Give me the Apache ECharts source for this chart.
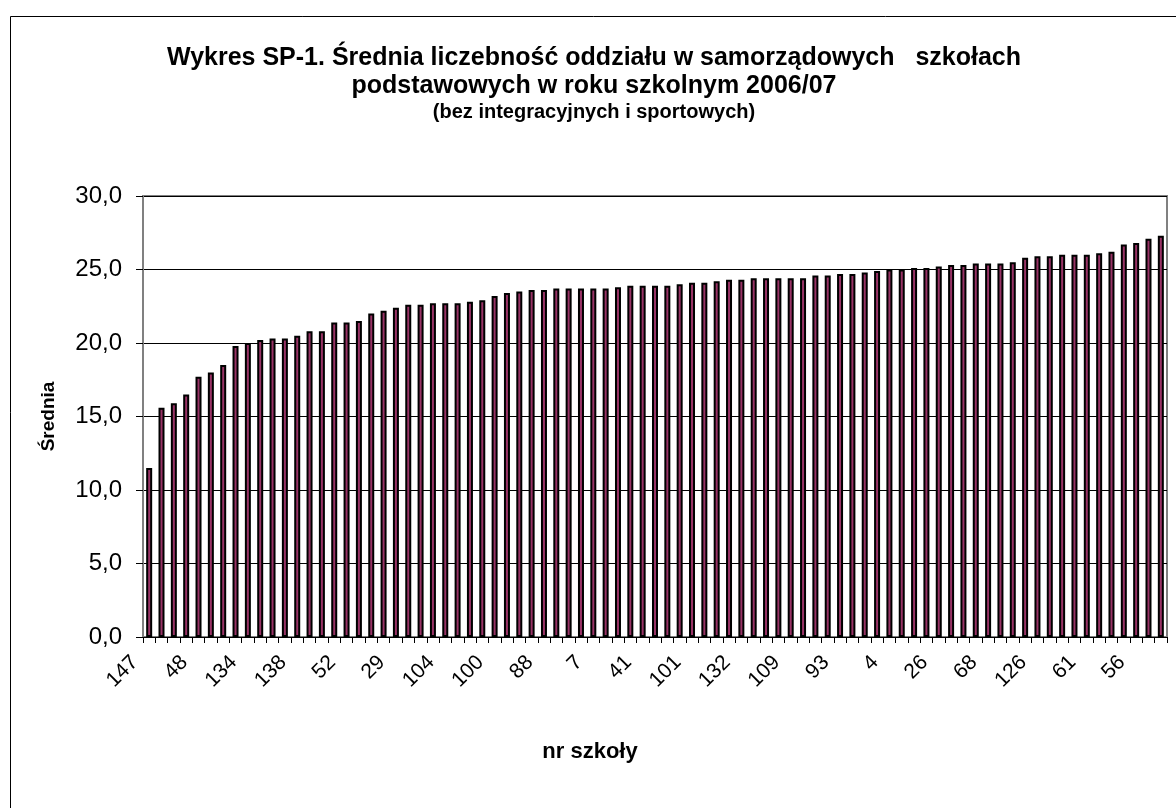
<!DOCTYPE html>
<html>
<head>
<meta charset="utf-8">
<script src="https://cdn.jsdelivr.net/npm/echarts@6/dist/echarts.min.js"></script>
<style>
  html, body { margin: 0; padding: 0; background: #fff; }
  #main { width: 1176px; height: 808px; }
</style>
</head>
<body>
<div id="main"></div>
<script>
  // numery szkół widoczne na osi (co czwarta kategoria), pozostałe nieczytelne
  var shownLabels = ['147','48','134','138','52','29','104','100','88','7','41',
                     '101','132','109','93','4','26','68','126','61','56'];
  var averages = [11.5,15.6,15.9,16.5,17.7,18.0,18.5,19.8,20.0,20.2,
                  20.3,20.3,20.5,20.8,20.8,21.4,21.4,21.5,22.0,22.2,
                  22.4,22.6,22.6,22.7,22.7,22.7,22.8,22.9,23.2,23.4,
                  23.5,23.6,23.6,23.7,23.7,23.7,23.7,23.7,23.8,23.9,
                  23.9,23.9,23.9,24.0,24.1,24.1,24.2,24.3,24.3,24.4,
                  24.4,24.4,24.4,24.4,24.6,24.6,24.7,24.7,24.8,24.9,
                  25.0,25.0,25.1,25.1,25.2,25.3,25.3,25.4,25.4,25.4,
                  25.5,25.8,25.9,25.9,26.0,26.0,26.0,26.1,26.2,26.7,
                  26.8,27.1,27.3];
  var yTicks = [0, 5, 10, 15, 20, 25, 30];

  var schools = averages.map(function (v, i) {
    return i % 4 === 0 ? shownLabels[i / 4] : '';
  });

  var font = 'Liberation Sans, Arial, sans-serif';
  var myChart = echarts.init(document.getElementById('main'));

  var option = {
    backgroundColor: '#fff',
    animation: false,
    title: {
      text: 'Wykres SP-1. Średnia liczebność oddziału w samorządowych   szkołach\npodstawowych w roku szkolnym 2006/07',
      subtext: '(bez integracyjnych i sportowych)',
      left: 589,
      textAlign: 'center',
      top: 39,
      itemGap: 2,
      textStyle: { fontFamily: font, fontSize: 25, fontWeight: 'bold', color: '#000', lineHeight: 28 },
      subtextStyle: { fontFamily: font, fontSize: 20, fontWeight: 'bold', color: '#000' }
    },
    graphic: [{
      type: 'rect',
      shape: { x: 10.5, y: 16.5, width: 1300, height: 1000 },
      style: { fill: 'none', stroke: '#000', lineWidth: 1 },
      silent: true
    }],
    grid: {
      left: 143, top: 196, right: 9, bottom: 171,
      show: true, borderColor: '#808080', borderWidth: 2
    },
    xAxis: {
      type: 'category',
      data: schools,
      name: 'nr szkoły',
      nameLocation: 'middle',
      nameGap: 104,
      nameTextStyle: {
        fontFamily: font, fontSize: 22, fontWeight: 'bold', color: '#000',
        padding: [0, 130, 0, 0]
      },
      axisLine: { lineStyle: { color: '#000', width: 1 } },
      axisTick: { show: true, interval: 0, length: 6, lineStyle: { color: '#000' } },
      axisLabel: {
        interval: 3, rotate: 45, margin: 8,
        padding: [0, 20, 0, 0],
        fontFamily: font, fontSize: 21, color: '#000'
      }
    },
    yAxis: {
      type: 'value',
      min: 0, max: 30, interval: 5,
      name: 'Średnia',
      nameLocation: 'middle',
      nameGap: 85,
      nameTextStyle: { fontFamily: font, fontSize: 19, fontWeight: 'bold', color: '#000' },
      axisLine: { show: true, lineStyle: { color: '#808080', width: 2 } },
      axisTick: { show: true, length: 7, lineStyle: { color: '#000' } },
      axisLabel: {
        margin: 21, fontFamily: font, fontSize: 24, color: '#000',
        customValues: yTicks,
        formatter: function (v) { return v.toFixed(1).replace('.', ','); }
      },
      splitLine: { lineStyle: { color: '#000', width: 1 } }
    },
    series: [{
      name: 'Średnia',
      type: 'bar',
      data: averages,
      barWidth: 6,
      itemStyle: { color: '#993366', borderColor: '#000', borderWidth: 2 }
    }]
  };

  myChart.setOption(option);
</script>
</body>
</html>
